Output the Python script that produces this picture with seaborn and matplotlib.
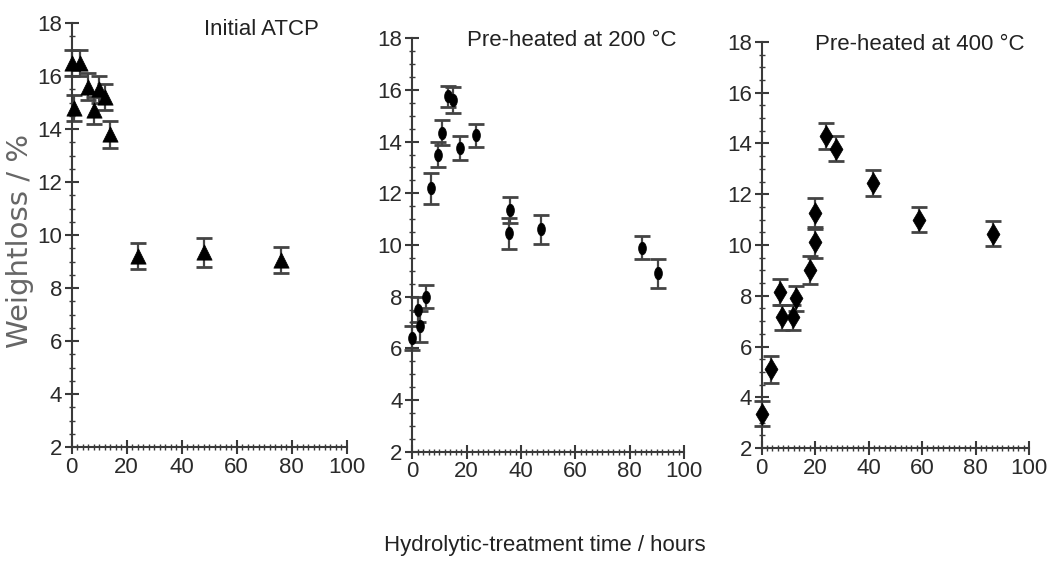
import numpy as np
import pandas as pd
import matplotlib
matplotlib.use("Agg")
import matplotlib.pyplot as plt
from matplotlib.path import Path
from matplotlib.ticker import MultipleLocator
import seaborn as sns

# Initial ATCP
t_initial = [0, 3, 6, 10, 12, 1, 8, 14, 24, 48, 76]
w_initial = [16.5, 16.5, 15.6, 15.5, 15.2, 14.8, 14.7, 13.8, 9.2, 9.35, 9.05]
e_initial = [0.5, 0.5, 0.5, 0.5, 0.5, 0.5, 0.5, 0.5, 0.5, 0.55, 0.5]

# Pre-heated at 200 °C
t_200 = [0, 2, 3, 5, 7, 9.5, 11, 13, 15, 17.5, 23.5, 36, 35.5, 47.5, 84.5, 90.5]
w_200 = [6.4, 7.5, 6.85, 8.0, 12.2, 13.5, 14.35, 15.75, 15.6, 13.75, 14.25,
         11.35, 10.45, 10.6, 9.9, 8.9]
e_200 = [0.45, 0.5, 0.6, 0.45, 0.6, 0.5, 0.5, 0.4, 0.5, 0.45, 0.45,
         0.5, 0.6, 0.55, 0.45, 0.55]

# Pre-heated at 400 °C
t_400 = [0, 3.3, 7, 7.7, 11.8, 13, 18, 20, 20, 24, 27.7, 41.6, 59, 86.4]
w_400 = [3.35, 5.1, 8.15, 7.15, 7.15, 7.9, 9.0, 10.1, 11.25, 14.3, 13.8,
         12.45, 11.0, 10.45]
e_400 = [0.5, 0.52, 0.5, 0.5, 0.5, 0.5, 0.55, 0.6, 0.6, 0.5, 0.5, 0.5, 0.5, 0.5]

titles = ["Initial ATCP", "Pre-heated at 200 °C", "Pre-heated at 400 °C"]
x_ticks = [0, 20, 40, 60, 80, 100]
y_ticks = [2, 4, 6, 8, 10, 12, 14, 16, 18]

sns.set_theme(style="ticks")
plt.rcParams["font.family"] = ["Liberation Sans", "DejaVu Sans"]

# tall ellipse marker
th = np.linspace(0, 2 * np.pi, 40)
ellipse = Path(np.column_stack([0.62 * np.cos(th), np.sin(th)]), closed=True)

fig = plt.figure(figsize=(10.47, 5.62), dpi=100)
rects = [
    [0.0685, 0.2046, 0.2627, 0.7544],
    [0.3938, 0.1963, 0.2595, 0.7356],
    [0.7275, 0.2028, 0.2553, 0.7225],
]
series = [
    (t_initial, w_initial, e_initial, "^", 11),
    (t_200, w_200, e_200, ellipse, 9),
    (t_400, w_400, e_400, "d", 11),
]
title_pos = [(0.69, 0.985), (0.585, 0.995), (0.59, 0.995)]

axc = "#3a3a3a"
for i, (rect, (t, w, e, mk, ms)) in enumerate(zip(rects, series)):
    ax = fig.add_axes(rect)
    df = pd.DataFrame({"time": t, "loss": w, "err": e})
    ax.errorbar(df["time"], df["loss"], yerr=df["err"], fmt="none",
                ecolor="#444444", elinewidth=1.6, capsize=5.5, capthick=2.0,
                clip_on=False, zorder=2)
    sns.scatterplot(data=df, x="time", y="loss", ax=ax, marker=mk, s=ms ** 2,
                    color="black", edgecolor="black", linewidth=0.5,
                    clip_on=False, zorder=3, legend=False)
    ax.set_xlim(0, 100)
    ax.set_ylim(2, 18)
    ax.set_xticks(x_ticks)
    ax.set_yticks(y_ticks)
    ax.xaxis.set_minor_locator(MultipleLocator(2))
    ax.yaxis.set_minor_locator(MultipleLocator(0.5))
    ax.tick_params(axis="both", which="major", direction="inout", length=10,
                   width=1.5, color=axc, labelsize=16, labelcolor="#2a2a2a", pad=2)
    ax.tick_params(axis="both", which="minor", direction="inout", length=5,
                   width=1.0, color=axc)
    for s in ["top", "right"]:
        ax.spines[s].set_visible(False)
    for s in ["left", "bottom"]:
        ax.spines[s].set_color(axc)
        ax.spines[s].set_linewidth(1.5)
    ax.set_xlabel("")
    ax.set_ylabel("")
    ax.text(title_pos[i][0], title_pos[i][1], titles[i], transform=ax.transAxes,
            ha="center", va="center", fontsize=16, color="#222222")

fig.text(0.019, 0.571, "Weightloss / %", rotation=90, ha="center", va="center",
         fontsize=21, color="#666666", family=["DejaVu Sans"])
fig.text(0.52, 0.03, "Hydrolytic-treatment time / hours", ha="center", va="center",
         fontsize=16, color="#222222")

fig.savefig("out.png", dpi=100)
